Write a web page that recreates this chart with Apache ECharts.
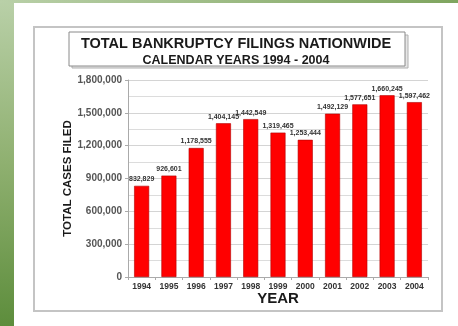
<!DOCTYPE html>
<html><head><meta charset="utf-8">
<script src="https://cdn.jsdelivr.net/npm/echarts@6/dist/echarts.min.js"></script>
<style>
html,body{margin:0;padding:0;background:#fff;}
#c{width:458px;height:326px;}
</style></head>
<body><div id="c"></div>
<script>
const years = ['1994','1995','1996','1997','1998','1999','2000','2001','2002','2003','2004'];
const filings = [832829, 926601, 1178555, 1404145, 1442549, 1319465, 1253444, 1492129, 1577651, 1660245, 1597462];
const yTicks = [0, 300000, 600000, 900000, 1200000, 1500000, 1800000];
const titleLine1 = 'TOTAL BANKRUPTCY FILINGS NATIONWIDE';
const titleLine2 = 'CALENDAR YEARS 1994 - 2004';

const chart = echarts.init(document.getElementById('c'), null, {renderer:'canvas'});
const fmt = v => v.toLocaleString('en-US');
const font = 'Arial, "Liberation Sans", sans-serif';

chart.setOption({
  backgroundColor: '#ffffff',
  animation: false,
  graphic: [
    {type:'rect', shape:{x:0,y:0,width:14,height:326}, silent:true, z:-10,
     style:{fill:new echarts.graphic.LinearGradient(0,0,0,1,[{offset:0,color:'#b9d0a8'},{offset:0.5,color:'#8fb070'},{offset:1,color:'#5d8d3c'}])}},
    {type:'rect', shape:{x:0,y:0,width:458,height:3}, silent:true, z:-10,
     style:{fill:new echarts.graphic.LinearGradient(0,0,1,0,[{offset:0,color:'#b9d0a8'},{offset:1,color:'#7fa55f'}])}},
    {type:'rect', shape:{x:34,y:27,width:408,height:284}, silent:true, z:-5,
     style:{fill:'#ffffff', stroke:'#c4c4c4', lineWidth:2}},
    {type:'rect', shape:{x:72,y:35,width:336,height:33}, silent:true, z:-4,
     style:{fill:'#e6e6e6', stroke:'#b0b0b0', lineWidth:1}},
    {type:'rect', shape:{x:69,y:32,width:336,height:34}, silent:true, z:-3,
     style:{fill:'#ffffff', stroke:'#8a8a8a', lineWidth:1}}
  ],
  title: [
    {text: titleLine1, left: 231, top: 31, textAlign:'center',
     textStyle:{fontFamily:font, fontSize:14.5, fontWeight:'bold', color:'#1a1a1a'}},
    {text: titleLine2, left: 231, top: 49, textAlign:'center',
     textStyle:{fontFamily:font, fontSize:12.5, fontWeight:'bold', color:'#1a1a1a'}}
  ],
  grid: {left:128, right:30, top:80, bottom:49, containLabel:false},
  xAxis: {
    type:'category', data: years,
    name:'YEAR', nameLocation:'middle', nameGap:14, nameMoveOverlap:false,
    nameTextStyle:{fontFamily:font, fontSize:15, fontWeight:'bold', color:'#1a1a1a'},
    axisLine:{lineStyle:{color:'#aaaaaa', width:1}},
    axisTick:{show:true, alignWithLabel:false, length:3, lineStyle:{color:'#aaaaaa'}},
    axisLabel:{fontFamily:font, fontSize:8.5, fontWeight:'bold', color:'#333333', margin:5}
  },
  yAxis: {
    type:'value', min:0, max:1800000, interval:300000,
    name:'TOTAL CASES FILED', nameLocation:'middle', nameGap:54, nameRotate:90, nameMoveOverlap:false,
    nameTextStyle:{fontFamily:font, fontSize:11.5, fontWeight:'bold', color:'#1a1a1a'},
    axisLine:{show:true, lineStyle:{color:'#aaaaaa', width:1}},
    axisTick:{show:true, length:3, lineStyle:{color:'#aaaaaa'}},
    axisLabel:{fontFamily:font, fontSize:10, fontWeight:'bold', color:'#555555', margin:6,
      formatter: v => yTicks.includes(v) ? fmt(v) : ''},
    splitLine:{show:true, lineStyle:{color:'#d4d4d4', width:1}},
    minorTick:{show:false, splitNumber:2},
    minorSplitLine:{show:true, lineStyle:{color:'#dcdcdc', width:1}}
  },
  series: [{
    type:'bar', data: filings, barWidth:'55%',
    itemStyle:{color:'#ff0000', borderColor:'#b00000', borderWidth:0.6},
    label:{show:true, position:'top', distance:3, fontFamily:font, fontSize:7, fontWeight:'bold',
      color:'#333333', formatter: p => fmt(p.value)}
  }]
});
</script></body></html>
